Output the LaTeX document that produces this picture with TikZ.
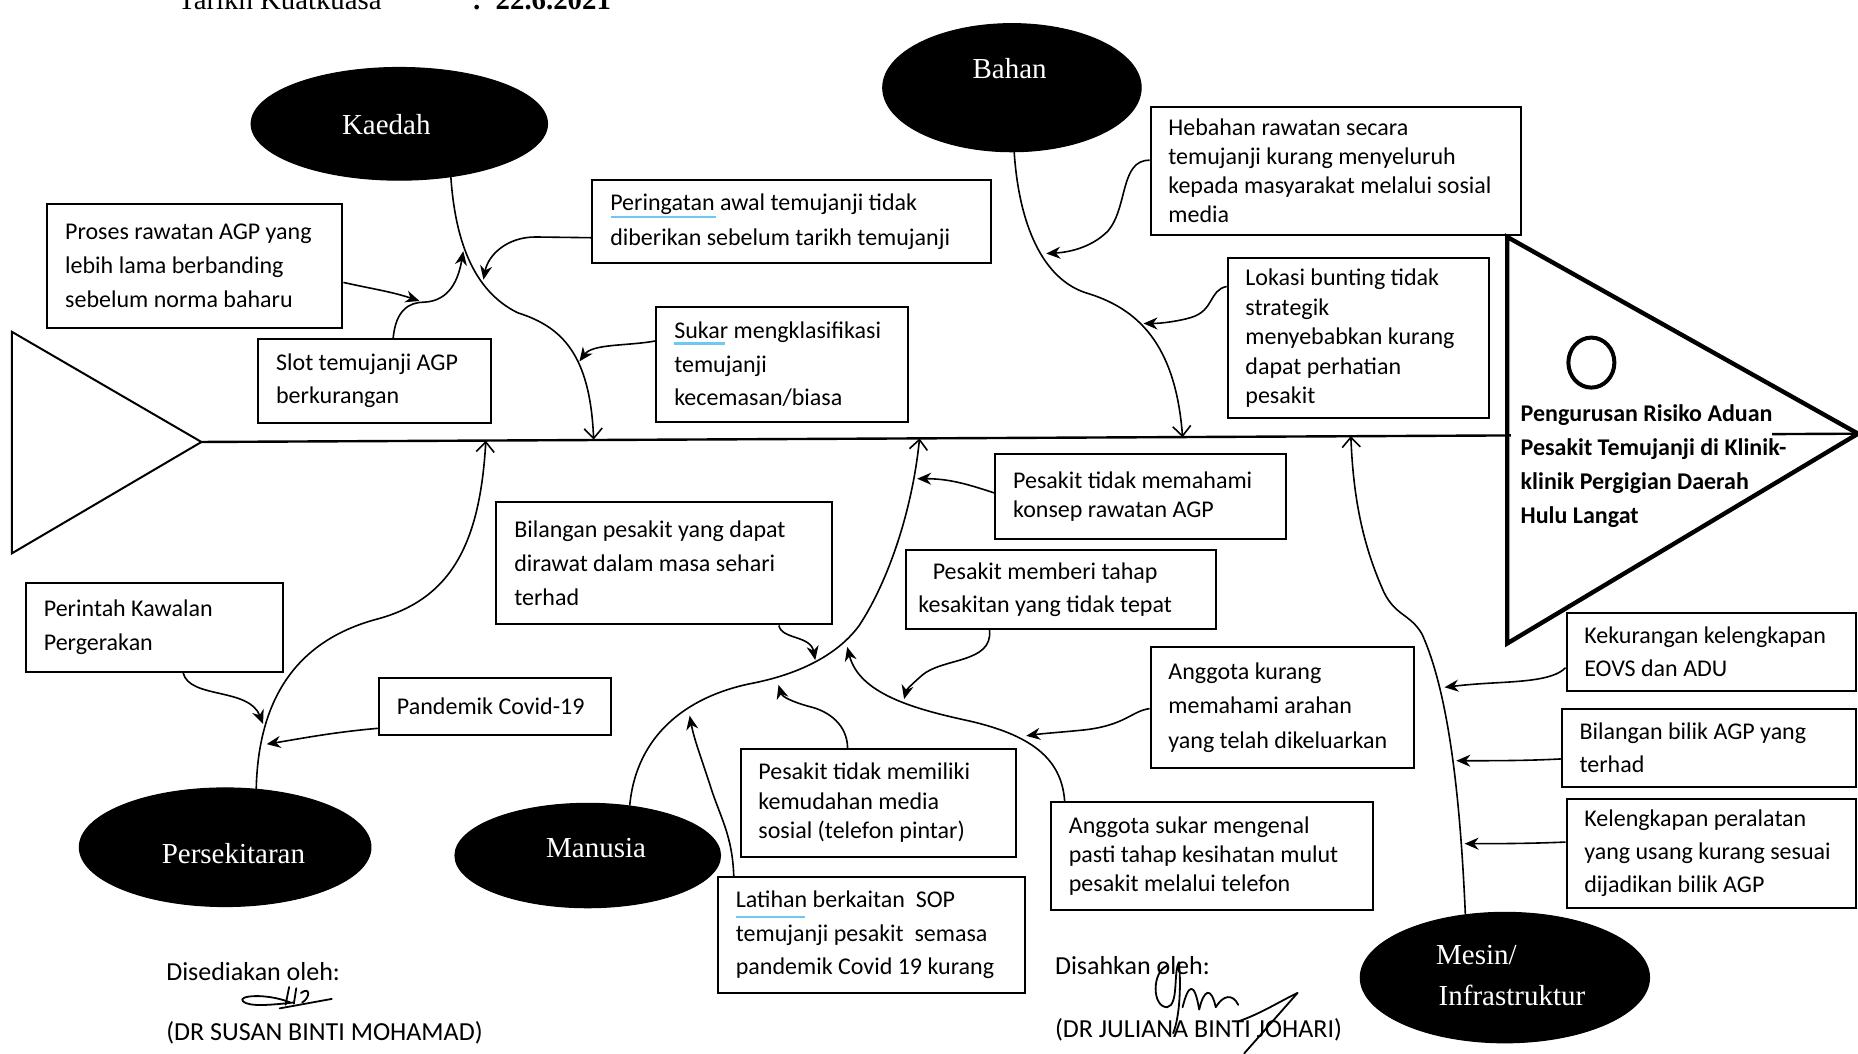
\documentclass[tikz,border=0pt]{standalone}
\usepackage{fontspec}
\setmainfont{Carlito}
\newfontfamily\timesf{Liberation Serif}
\usetikzlibrary{arrows.meta,shapes.geometric,fit,calc}
\definecolor{spellblue}{RGB}{110,200,240}
\tikzset{
  boxst/.style={draw=black, line width=1pt, inner sep=0pt, rectangle},
  txtst/.style={align=left, inner sep=0pt, text=black},
  ellst/.style={ellipse, fill=black, draw=black, line width=0.6pt, inner sep=0pt},
  elltxt/.style={text=white, font=\timesf\fontsize{14.5}{17}\selectfont, inner sep=0pt, align=center},
  bonearrow/.style={line width=0.8pt, -{Straight Barb[length=5pt,width=9pt,line width=0.8pt]}},
  subarrow/.style={line width=0.8pt, -{Stealth[length=7pt,width=6pt]}},
  spellst/.style={spellblue, line width=1.3pt},
  sigst/.style={line width=0.9pt, line cap=round, line join=round}
}
\newcommand\tbx[7]{%
  \node[boxst, fit={(#2,#3) (#4,#5)}] (#1) {};
  \node[txtst, font=\fontsize{12}{#6}\selectfont, anchor=west] (#1t) at ([xshift=9.2pt]#1.west) {#7};}
\newcommand\ellnd[5]{%
  \pgfmathsetmacro\ellw{2*#4*0.5925}%
  \pgfmathsetmacro\ellh{2*#5*0.5925}%
  \node[ellst, minimum width=\ellw pt, minimum height=\ellh pt] (#1) at (#2,#3) {};}
\begin{document}
\begin{tikzpicture}[x=0.5925pt, y=-0.5925pt]
\useasboundingbox (0,0) rectangle (1568,889);
\fill[white] (0,0) rectangle (1568,889);

% header (cut at top, as in the scan)
\node[anchor=base west, inner sep=0pt, font=\timesf\fontsize{14.4}{16}\selectfont] (hdra) at (150,8) {Tarikh Kuatkuasa};
\node[anchor=base west, inner sep=0pt, font=\timesf\bfseries\fontsize{14.4}{16}\selectfont] (hdrb) at (398,8) {:};
\node[anchor=base west, inner sep=0pt, font=\timesf\bfseries\fontsize{14.4}{16}\selectfont] (hdrc) at (418,8) {22.6.2021};

% spine, tail and head
\coordinate (tailtip) at (170,373);
\coordinate (headtip) at (1568,366);
\draw[line width=1.2pt] (tailtip) -- (headtip);
\fill[white] (1275,358) rectangle (1495,374);
\draw[line width=1pt, line join=miter] (10,280) -- (tailtip) -- (10,467) -- cycle;
\draw[line width=2.2pt, line join=miter] (1272,200) -- (headtip) -- (1272,543) -- cycle;
\node[draw, ellipse, line width=2pt, minimum width=23pt, minimum height=25pt, inner sep=0pt] (headO) at (1343,306) {};
\node[txtst, font=\bfseries\fontsize{12}{17}\selectfont, anchor=west] (headtxt) at (1283,393)
  {Pengurusan Risiko Aduan\\Pesakit Temujanji di Klinik-\\klinik Pergigian Daerah\\Hulu Langat};

% spine points
\coordinate (sk) at (501,371);
\coordinate (sb) at (998,369);
\coordinate (sp) at (410,372);
\coordinate (sm) at (776,370);
\coordinate (smes) at (1140,368);

% category ellipses
\ellnd{kaedah}{337}{104.5}{125}{47.5}
\node[elltxt] (kaedaht) at (326,105) {Kaedah};
\ellnd{bahan}{854}{74}{109}{54}
\node[elltxt] (bahant) at (852,58) {Bahan};
\ellnd{persek}{190}{715}{123}{50}
\node[elltxt] (persekt) at (197,720) {Persekitaran};
\ellnd{manusia}{496}{722}{112}{44}
\node[elltxt] (manusiat) at (503,716) {Manusia};
\ellnd{mesin}{1270}{825}{122}{55}
\node[elltxt] (mesinta) at (1246,806) {Mesin/};
\node[elltxt] (mesintb) at (1276,840) {Infrastruktur};

% boxes
\tbx{b1}{40}{172}{289}{277}{16.9pt}{Proses rawatan AGP yang\\lebih lama berbanding\\sebelum norma baharu}
\tbx{b2}{218}{286}{414}{357}{16.6pt}{Slot temujanji AGP\\berkurangan}
\tbx{b3}{500}{152}{836}{222}{17.2pt}{Peringatan awal temujanji tidak\\diberikan sebelum tarikh temujanji}
\tbx{b4}{554}{259}{766}{356}{16.9pt}{Sukar mengklasifikasi\\temujanji\\kecemasan/biasa}
\tbx{b5}{971}{90}{1284}{198}{14.4pt}{Hebahan rawatan secara\\temujanji kurang menyeluruh\\kepada masyarakat melalui sosial\\media}
\tbx{b6}{1036}{218}{1257}{353}{14.7pt}{Lokasi bunting tidak\\strategik\\menyebabkan kurang\\dapat perhatian\\pesakit}
\tbx{b7}{840}{383}{1085}{455}{14.8pt}{Pesakit tidak memahami\\konsep rawatan AGP}
\tbx{b8}{419}{424}{702}{527}{16.9pt}{Bilangan pesakit yang dapat\\dirawat dalam masa sehari\\terhad}
\node[boxst, fit={(765,464) (1026,531)}] (b9) {};
\node[txtst, align=center, font=\fontsize{12}{16.6pt}\selectfont] (b9t) at (882,497.5) {Pesakit memberi tahap\\kesakitan yang tidak tepat};
\tbx{b10}{22}{492}{239}{567}{17.2pt}{Perintah Kawalan\\Pergerakan}
\tbx{b11}{320}{572}{516}{620}{16.6pt}{Pandemik Covid-19}
\tbx{b12}{971}{546}{1193}{648}{17.2pt}{Anggota kurang\\memahami arahan\\yang telah dikeluarkan}
\tbx{b13}{625}{632}{857}{723}{14.8pt}{Pesakit tidak memiliki\\kemudahan media\\sosial (telefon pintar)}
\tbx{b14}{887}{677}{1159}{768}{14.5pt}{Anggota sukar mengenal\\pasti tahap kesihatan mulut\\pesakit melalui telefon}
\tbx{b15}{606}{740}{865}{838}{16.9pt}{Latihan berkaitan~ SOP\\temujanji pesakit~ semasa\\pandemik Covid 19 kurang}
\tbx{b16}{1322}{517}{1566}{583}{16.6pt}{Kekurangan kelengkapan\\EOVS dan ADU}
\tbx{b17}{1318}{598}{1566}{664}{16.6pt}{Bilangan bilik AGP yang\\terhad}
\tbx{b18}{1322}{674}{1566}{766}{16.6pt}{Kelengkapan peralatan\\yang usang kurang sesuai\\dijadikan bilik AGP}

% spell-check underlines
\draw[spellst] (516,183) -- (604,183);
\draw[spellst] (569,290) -- (612,290);
\draw[spellst] (621,774) -- (679,774);

% junction points on bones
\coordinate (jk1) at (391,212);
\coordinate (jk2) at (354,254);
\coordinate (jk3) at (408,236);
\coordinate (jk4) at (489,305);
\coordinate (jb1) at (883,214);
\coordinate (jb2) at (965,273);
\coordinate (jp1) at (222,611);
\coordinate (jp2) at (225,628);
\coordinate (jm1) at (688,557);
\coordinate (jm2) at (774,404);
\coordinate (jm3) at (582,604);
\coordinate (jm4) at (657,578);
\coordinate (jm5) at (715,546);
\coordinate (ja1) at (763,590);
\coordinate (ja2) at (866,621);
\coordinate (jq1) at (1219,580);
\coordinate (jq2) at (1229,642);
\coordinate (jq3) at (1236,712);

% main bones
\draw[bonearrow] (kaedah.-46) .. controls (384,200) and (398,245) .. (437,264) .. controls (475,276) and (498,300) .. (sk);
\draw[bonearrow] (bahan.-88) .. controls (860,190) and (880,235) .. (916,247) .. controls (960,260) and (992,290) .. (sb);
\draw[bonearrow] (persek.62) .. controls (218,590) and (250,540) .. (320,522) .. controls (380,505) and (405,460) .. (sp);
\draw[bonearrow] (manusia.50) .. controls (537,620) and (580,588) .. (633,577) .. controls (670,570) and (705,555) .. (725,528) .. controls (750,490) and (770,430) .. (sm);
\draw[bonearrow] (mesin.122) .. controls (1233,690) and (1225,590) .. (1200,535) .. controls (1190,518) and (1178,520) .. (1168,500) .. controls (1150,460) and (1142,420) .. (smes);

% Kaedah sub-causes
\draw[subarrow] ($(b2.north west)!0.58!(b2.north east)$) .. controls (334,262) and (345,255) .. (358,255) .. controls (380,254) and (387,235) .. (jk1);
\draw[subarrow] ($(b1.north east)!0.63!(b1.south east)$) .. controls (315,244) and (330,246) .. (jk2);
\draw[subarrow] ($(b3.north west)!0.69!(b3.south west)$) -- (452,200) .. controls (428,200) and (412,215) .. (jk3);
\draw[subarrow] ($(b4.north west)!0.30!(b4.south west)$) .. controls (530,292) and (500,290) .. (jk4);

% Bahan sub-causes
\draw[subarrow] ($(b5.north west)!0.42!(b5.south west)$) .. controls (945,135) and (952,175) .. (935,195) .. controls (920,210) and (900,213) .. (jb1);
\draw[subarrow] ($(b6.north west)!0.18!(b6.south west)$) .. controls (1020,245) and (1025,262) .. (1005,268) .. controls (995,271) and (980,273) .. (jb2);

% Persekitaran sub-causes
\draw[subarrow] ($(b10.south west)!0.61!(b10.south east)$) .. controls (160,590) and (210,580) .. (jp1);
\draw[subarrow] ($(b11.north west)!0.875!(b11.south west)$) .. controls (280,618) and (250,624) .. (jp2);

% Manusia sub-causes
\draw[subarrow] ($(b8.south west)!0.84!(b8.south east)$) .. controls (660,540) and (684,536) .. (jm1);
\draw[subarrow] ($(b7.north west)!0.46!(b7.south west)$) .. controls (815,408) and (800,404) .. (jm2);
\draw[subarrow] ($(b15.north west)!0.054!(b15.north east)$) .. controls (618,705) and (608,690) .. (600,665) .. controls (592,640) and (586,625) .. (jm3);
\draw[subarrow] ($(b13.north west)!0.39!(b13.north east)$) .. controls (715,612) and (700,600) .. (682,596) .. controls (668,592) and (660,588) .. (jm4);
\draw[subarrow] ($(b14.north west)!0.045!(b14.north east)$) .. controls (896,640) and (870,620) .. (816,608) .. controls (770,598) and (725,585) .. (jm5);
\draw[subarrow] ($(b9.south west)!0.27!(b9.south east)$) .. controls (838,560) and (795,555) .. (778,570) .. controls (770,577) and (765,582) .. (ja1);
\draw[subarrow] ($(b12.north west)!0.51!(b12.south west)$) .. controls (955,600) and (950,612) .. (915,616) .. controls (895,618) and (880,619) .. (ja2);

% Mesin sub-causes
\draw[subarrow] ($(b16.north west)!0.70!(b16.south west)$) .. controls (1310,575) and (1280,575) .. (1250,577) .. controls (1235,578) and (1228,579) .. (jq1);
\draw[subarrow] ($(b17.north west)!0.64!(b17.south west)$) .. controls (1290,642) and (1260,642) .. (jq2);
\draw[subarrow] ($(b18.north west)!0.40!(b18.south west)$) .. controls (1290,712) and (1260,712) .. (jq3);

% signatures
\node[anchor=west, inner sep=0pt, font=\fontsize{13}{15}\selectfont] (sig1a) at (140,820) {Disediakan oleh:};
\node[anchor=west, inner sep=0pt, font=\fontsize{13}{15}\selectfont] (sig1b) at (140,872) {(DR SUSAN BINTI MOHAMAD)};
\node[anchor=west, inner sep=0pt, font=\fontsize{13}{15}\selectfont] (sig2a) at (890,815) {Disahkan oleh:};
\node[anchor=west, inner sep=0pt, font=\fontsize{13}{15}\selectfont] (sig2b) at (890,869) {(DR JULIANA BINTI JOHARI)};
\draw[sigst] (245,846) .. controls (225,838) and (200,840) .. (205,845) .. controls (210,850) and (230,848) .. (248,846);
\draw[sigst] (236,851) -- (280,843);
\draw[sigst] (244,833) -- (241,848);
\draw[sigst] (250,834) -- (248,847);
\draw[sigst] (254,838) .. controls (262,832) and (262,842) .. (255,846);
\draw[sigst] (985,815) .. controls (972,820) and (972,850) .. (985,850) .. controls (995,848) and (990,820) .. (995,812) .. controls (997,835) and (995,860) .. (990,872);
\draw[sigst] (998,850) .. controls (1003,830) and (1008,828) .. (1012,852) .. controls (1016,835) and (1022,832) .. (1026,850) .. controls (1032,840) and (1040,838) .. (1045,848);
\draw[sigst] (1095,838) -- (1050,889);
\draw[sigst] (1045,862) .. controls (1065,855) and (1080,845) .. (1095,838);
\end{tikzpicture}
\end{document}
